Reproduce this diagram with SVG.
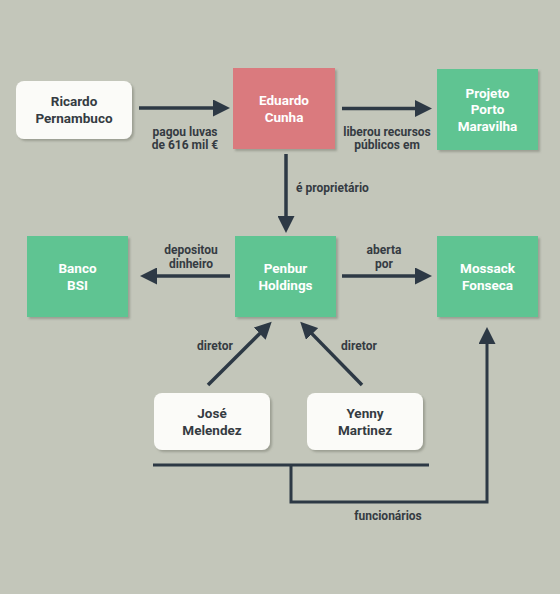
<svg xmlns="http://www.w3.org/2000/svg" width="560" height="594" viewBox="0 0 560 594">
<style>
.bg{fill:#c3c6ba}
.white{fill:#fbfbf8}
.green{fill:#5fc492}
.red{fill:#da7a7e}
.nt{font-family:Roboto,"Liberation Sans",sans-serif;font-weight:bold;font-size:13.5px;text-anchor:middle}
.dark{fill:#353b42}
.light{fill:#ffffff}
.lbl{font-family:Roboto,"Liberation Sans",sans-serif;font-weight:bold;font-size:12px;fill:#353b42;text-anchor:middle}
.ln{stroke:#2d3945;stroke-width:3.5;fill:none}
.br{stroke:#2d3945;stroke-width:3;fill:none}
</style>
<defs>
<filter id="sh" x="-10%" y="-10%" width="130%" height="130%">
<feDropShadow dx="2" dy="2" stdDeviation="1.2" flood-color="#6b6e62" flood-opacity="0.45"/>
</filter>
<marker id="ah" markerUnits="userSpaceOnUse" markerWidth="17" markerHeight="17" viewBox="0 0 17 17" refX="7" refY="8.5" orient="auto">
<path d="M0,0 L17,8.5 L0,17 z" fill="#2d3945"/>
</marker>
</defs>
<rect class="bg" x="0" y="0" width="560" height="594"/>

<g id="connectors">
<line class="ln" x1="139" y1="108" x2="220" y2="108" marker-end="url(#ah)"/>
<line class="ln" x1="342" y1="108.5" x2="422" y2="108.5" marker-end="url(#ah)"/>
<line class="ln" x1="286" y1="154" x2="286" y2="223" marker-end="url(#ah)"/>
<line class="ln" x1="230" y1="276" x2="150" y2="276" marker-end="url(#ah)"/>
<line class="ln" x1="342" y1="276" x2="422" y2="276" marker-end="url(#ah)"/>
<line class="ln" x1="208" y1="385" x2="264.6" y2="328.7" marker-end="url(#ah)"/>
<line class="ln" x1="362" y1="385" x2="307.2" y2="328.9" marker-end="url(#ah)"/>
<line class="br" x1="153" y1="465" x2="429" y2="465"/>
<path class="br" d="M291,465 V502 H487 V337" marker-end="url(#ah)"/>
<text class="lbl" x="185" y="136">pagou luvas</text>
<text class="lbl" x="185" y="149">de 616 mil €</text>
<text class="lbl" x="387" y="136">liberou recursos</text>
<text class="lbl" x="387" y="149">públicos em</text>
<text class="lbl" x="296" y="192" style="text-anchor:start">é proprietário</text>
<text class="lbl" x="191" y="254">depositou</text>
<text class="lbl" x="191" y="268">dinheiro</text>
<text class="lbl" x="384" y="254">aberta</text>
<text class="lbl" x="384" y="268">por</text>
<text class="lbl" x="215" y="350">diretor</text>
<text class="lbl" x="359" y="350">diretor</text>
<text class="lbl" x="388" y="520">funcionários</text>
</g>

<g id="ricardo">
<rect class="white" x="16" y="81" width="116" height="58" rx="8" filter="url(#sh)"/>
<text class="nt dark" x="74" y="106">Ricardo</text>
<text class="nt dark" x="74" y="123">Pernambuco</text>
</g>
<g id="eduardo">
<rect class="red" x="233" y="68" width="102" height="81" filter="url(#sh)"/>
<text class="nt light" x="284" y="104.5">Eduardo</text>
<text class="nt light" x="284" y="121.5">Cunha</text>
</g>
<g id="projeto">
<rect class="green" x="437" y="69" width="101" height="81" filter="url(#sh)"/>
<text class="nt light" x="487.5" y="97.5">Projeto</text>
<text class="nt light" x="487.5" y="114">Porto</text>
<text class="nt light" x="487.5" y="130.5">Maravilha</text>
</g>
<g id="banco">
<rect class="green" x="27" y="236" width="101" height="81" filter="url(#sh)"/>
<text class="nt light" x="77.5" y="272.5">Banco</text>
<text class="nt light" x="77.5" y="289.5">BSI</text>
</g>
<g id="penbur">
<rect class="green" x="235" y="236" width="101" height="81" filter="url(#sh)"/>
<text class="nt light" x="285.5" y="272.5">Penbur</text>
<text class="nt light" x="285.5" y="289.5">Holdings</text>
</g>
<g id="mossack">
<rect class="green" x="437" y="236" width="101" height="81" filter="url(#sh)"/>
<text class="nt light" x="487.5" y="272.5">Mossack</text>
<text class="nt light" x="487.5" y="289.5">Fonseca</text>
</g>
<g id="jose">
<rect class="white" x="154" y="393" width="116" height="57" rx="8" filter="url(#sh)"/>
<text class="nt dark" x="212" y="417.5">José</text>
<text class="nt dark" x="212" y="434.5">Melendez</text>
</g>
<g id="yenny">
<rect class="white" x="307" y="393" width="116" height="57" rx="8" filter="url(#sh)"/>
<text class="nt dark" x="365" y="417.5">Yenny</text>
<text class="nt dark" x="365" y="434.5">Martinez</text>
</g>
</svg>
